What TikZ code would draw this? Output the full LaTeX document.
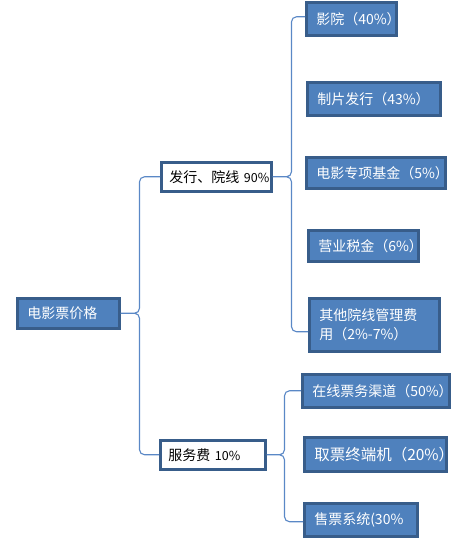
\documentclass[tikz,border=0pt]{standalone}
\usepackage{fontspec}
\setmainfont{Noto Sans CJK SC}
\usetikzlibrary{positioning}
\definecolor{boxblue}{HTML}{4F81BD}
\definecolor{boxline}{HTML}{385D8A}
\definecolor{linkblue}{HTML}{5A88C6}
\newcommand{\smallpct}[1]{{\fontsize{12.5}{15}\selectfont #1}}

\begin{document}
\begin{tikzpicture}[x=1pt, y=-1pt, font=\fontsize{14}{19}\selectfont,
    item/.style={draw=boxline, line width=2.5pt, anchor=north west, align=left,
      inner xsep=10pt, inner ysep=0pt},
    leaf/.style={item, fill=boxblue, text=white},
    mid/.style={item, fill=white, text=black},
    link/.style={draw=linkblue, line width=1.1pt, rounded corners=5pt}]
      \useasboundingbox (0,0) rectangle (471,539);

      \node[leaf, text width=82pt, minimum height=30pt] (0) at (16,297) {电影票价格};
      \node[mid, inner xsep=8pt, text width=94pt, minimum height=29pt] (1) at (160,161) {\mbox{发行、院线 \smallpct{90\%}}};
      \node[mid, inner xsep=8pt, text width=89pt, minimum height=29pt] (2) at (159,439) {\mbox{服务费 \smallpct{10\%}}};

      \node[leaf, text width=70pt, minimum height=33pt] (a1) at (305,1) {影院（40\%）};
      \node[leaf, text width=113pt, minimum height=33pt] (a2) at (306,81) {制片发行（43\%）};
      \node[leaf, text width=119pt, minimum height=31pt] (a3) at (305,156) {电影专项基金（5\%）};
      \node[leaf, text width=90pt, minimum height=31pt] (a4) at (307,229) {营业税金（6\%）};
      \node[leaf, text width=110pt, minimum height=53pt] (a5) at (308,297) {其他院线管理费\\用（2\%-7\%）};

      \node[leaf, text width=127pt, minimum height=33pt] (b1) at (301,373) {在线票务渠道（50\%）};
      \node[leaf, text width=122pt, minimum height=34pt, font=\fontsize{15.5}{19}\selectfont] (b2) at (303,436) {取票终端机（20\%）};
      \node[leaf, text width=93pt, minimum height=33pt] (b3) at (303,502) {售票系统(30\%};

      \path[link]
        (0.east) -- ++(19,0) |- (1.west)
        (0.east) -- ++(19,0) |- (2.west)
        (1.east) -- ++(19,0) |- ([yshift=2pt]a1.west)
        (1.east) -- ++(19,0) |- ([yshift=-7pt]a5.west)
        (2.east) -- ++(18,0) |- (b1.west)
        (2.east) -- ++(18,0) |- ([yshift=-2pt]b3.west);
    \end{tikzpicture}
\end{document}
